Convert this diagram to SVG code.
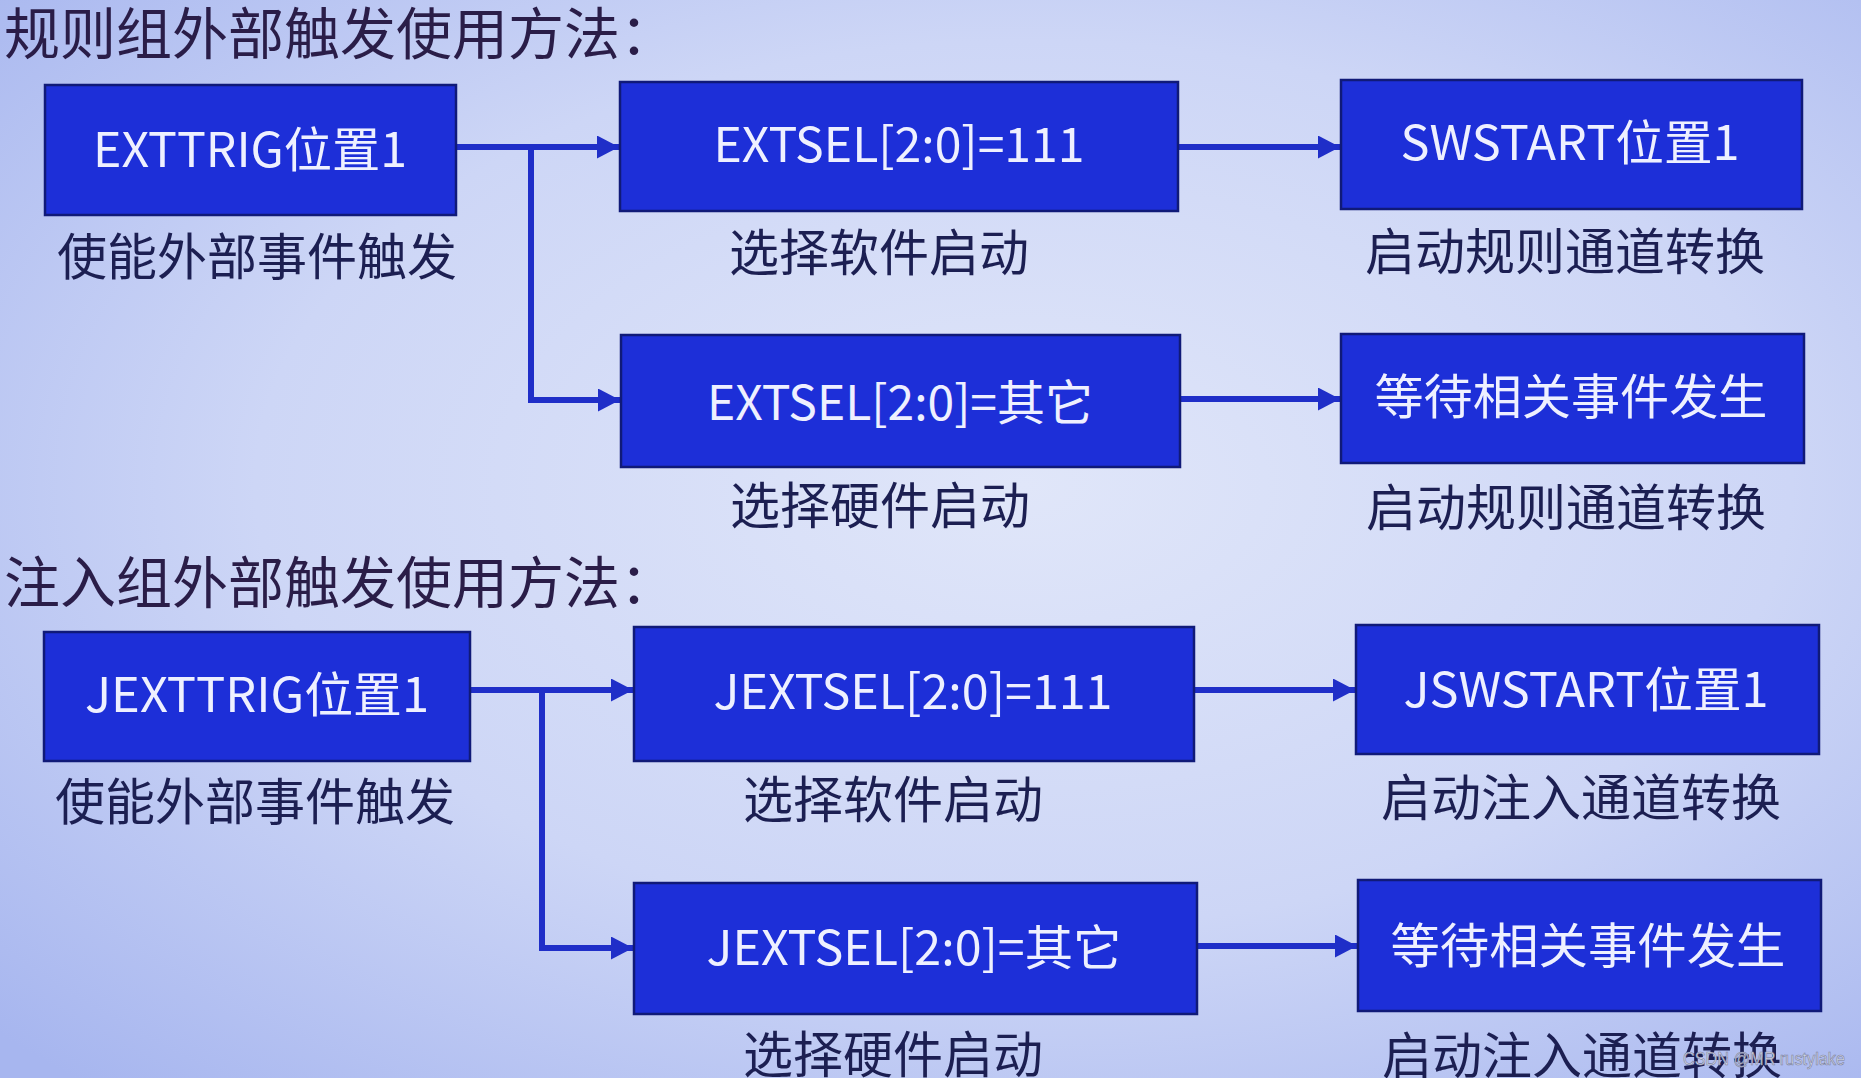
<svg xmlns="http://www.w3.org/2000/svg" width="1861" height="1078" viewBox="0 0 1861 1078">
  <defs>
    <radialGradient id="bg" cx="0.55" cy="0.45" r="0.75">
      <stop offset="0" stop-color="#e0e6f9"/>
      <stop offset="0.55" stop-color="#cdd6f6"/>
      <stop offset="1" stop-color="#a7b6ef"/>
    </radialGradient>
    <marker id="ah" markerUnits="userSpaceOnUse" markerWidth="24" markerHeight="24" refX="22" refY="11.5" orient="auto" viewBox="0 0 24 24">
      <path d="M0,0 L22,11.5 L0,23 Z" fill="#1f2ec8"/>
    </marker>
    <style>
      .box { fill: #1d2fd8; stroke: #101a78; stroke-width: 2.5; }
      .bt { font-family: "Noto Sans CJK SC", "Noto Sans", sans-serif; font-size: 48px; fill: #eef0ff; text-anchor: middle; }
      .lb { font-family: "Noto Sans CJK SC", sans-serif; font-size: 50px; fill: #1c1f52; text-anchor: middle; }
      .ti { font-family: "Noto Sans CJK SC", sans-serif; font-size: 56px; fill: #2a1d48; }
      .cn { fill: none; stroke: #1f2ec8; stroke-width: 6; }
      .wm { font-family: "Liberation Sans", Arial, sans-serif; font-size: 18px; fill: #d4d8e4; stroke: #7a80a0; stroke-width: 0.6; }
    </style>
  </defs>
  <rect x="0" y="0" width="1861" height="1078" fill="url(#bg)"/>

  <text class="ti" x="4" y="54">规则组外部触发使用方法：</text>
  <text class="ti" x="4" y="603">注入组外部触发使用方法：</text>

  <g id="connectors">
    <path class="cn" d="M456,147 L619,147" marker-end="url(#ah)"/>
    <path class="cn" d="M531,147 L531,400 L620,400" marker-end="url(#ah)"/>
    <path class="cn" d="M1179,147 L1340,147" marker-end="url(#ah)"/>
    <path class="cn" d="M1180,399 L1340,399" marker-end="url(#ah)"/>
    <path class="cn" d="M470,690 L633,690" marker-end="url(#ah)"/>
    <path class="cn" d="M542,690 L542,948 L633,948" marker-end="url(#ah)"/>
    <path class="cn" d="M1194,690 L1355,690" marker-end="url(#ah)"/>
    <path class="cn" d="M1197,946 L1357,946" marker-end="url(#ah)"/>
  </g>

  <g id="n-exttrig">
    <rect class="box" x="45" y="85" width="411" height="130"/>
    <text class="bt" x="250" y="167" textLength="314" lengthAdjust="spacingAndGlyphs">EXTTRIG位置1</text>
    <text class="lb" x="257" y="275">使能外部事件触发</text>
  </g>
  <g id="n-extsel111">
    <rect class="box" x="620" y="82" width="558" height="129"/>
    <text class="bt" x="899" y="162" textLength="371" lengthAdjust="spacingAndGlyphs">EXTSEL[2:0]=111</text>
    <text class="lb" x="879" y="271">选择软件启动</text>
  </g>
  <g id="n-swstart">
    <rect class="box" x="1341" y="80" width="461" height="129"/>
    <text class="bt" x="1570" y="160" textLength="339" lengthAdjust="spacingAndGlyphs">SWSTART位置1</text>
    <text class="lb" x="1565" y="270">启动规则通道转换</text>
  </g>
  <g id="n-extsel-other">
    <rect class="box" x="621" y="335" width="559" height="132"/>
    <text class="bt" x="900" y="420" textLength="386" lengthAdjust="spacingAndGlyphs">EXTSEL[2:0]=其它</text>
    <text class="lb" x="880" y="524">选择硬件启动</text>
  </g>
  <g id="n-wait1">
    <rect class="box" x="1341" y="334" width="463" height="129"/>
    <text class="bt" x="1571" y="414" font-size="50" textLength="393" lengthAdjust="spacingAndGlyphs">等待相关事件发生</text>
    <text class="lb" x="1566" y="526">启动规则通道转换</text>
  </g>

  <g id="n-jexttrig">
    <rect class="box" x="44" y="632" width="426" height="129"/>
    <text class="bt" x="257" y="712" textLength="344" lengthAdjust="spacingAndGlyphs">JEXTTRIG位置1</text>
    <text class="lb" x="255" y="820">使能外部事件触发</text>
  </g>
  <g id="n-jextsel111">
    <rect class="box" x="634" y="627" width="560" height="134"/>
    <text class="bt" x="913" y="709" textLength="399" lengthAdjust="spacingAndGlyphs">JEXTSEL[2:0]=111</text>
    <text class="lb" x="893" y="818">选择软件启动</text>
  </g>
  <g id="n-jswstart">
    <rect class="box" x="1356" y="625" width="463" height="129"/>
    <text class="bt" x="1586" y="707" textLength="365" lengthAdjust="spacingAndGlyphs">JSWSTART位置1</text>
    <text class="lb" x="1581" y="816">启动注入通道转换</text>
  </g>
  <g id="n-jextsel-other">
    <rect class="box" x="634" y="883" width="563" height="131"/>
    <text class="bt" x="914" y="965" textLength="415" lengthAdjust="spacingAndGlyphs">JEXTSEL[2:0]=其它</text>
    <text class="lb" x="893" y="1073">选择硬件启动</text>
  </g>
  <g id="n-wait2">
    <rect class="box" x="1358" y="880" width="463" height="131"/>
    <text class="bt" x="1588" y="963" font-size="50" textLength="395" lengthAdjust="spacingAndGlyphs">等待相关事件发生</text>
    <text class="lb" x="1582" y="1074">启动注入通道转换</text>
  </g>

  <text class="wm" x="1683" y="1065" textLength="162" lengthAdjust="spacingAndGlyphs">CSDN @MR rustylake</text>
</svg>
